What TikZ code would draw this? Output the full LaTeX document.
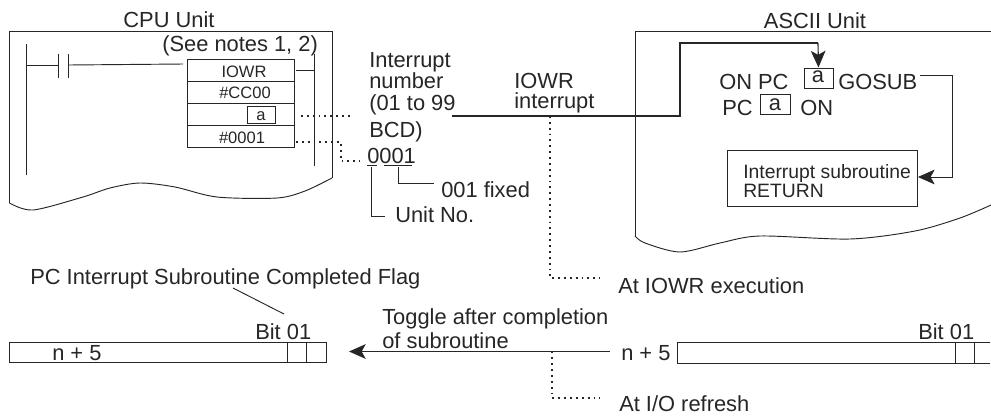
\documentclass[tikz,border=0pt]{standalone}
\usepackage{fontspec}
\setmainfont{Liberation Sans}
\usetikzlibrary{arrows.meta}
\newcommand{\bigtxt}{\fontsize{16.4}{18}\selectfont}
\newcommand{\midtxt}{\fontsize{14.5}{16}\selectfont}
\newcommand{\smalltxt}{\fontsize{12.4}{14}\selectfont}
\begin{document}
\begin{tikzpicture}[
            x=0.75pt, y=-0.75pt,
            every node/.style={text=black!85},
            txt/.style   ={anchor=base west, inner sep=0pt, font=\bigtxt},
            txtc/.style  ={anchor=base, inner sep=0pt, font=\bigtxt},
            small/.style ={anchor=base, inner sep=0pt, font=\smalltxt},
            mid/.style   ={anchor=base west, inner sep=0pt, font=\midtxt},
            cell/.style  ={draw=black!85, anchor=north west, inner sep=0pt, line width=0.7pt},
            wire/.style  ={draw=black!85, line width=0.7pt},
            thickwire/.style ={draw=black!85, line width=0.85pt},
            dots/.style  ={draw=black!85, line width=0.8pt, dash pattern=on 1.4pt off 3pt},
            tip/.style   ={-{Stealth[length=12.5pt, width=11pt, inset=3pt]}}
        ]
            \useasboundingbox (0,0) rectangle (991,415);

            %-----------------  CPU Unit  --------------------
            \node[txtc] (cpu) at (169,27) {CPU Unit};
            \draw[wire] (9.5,203) -- (9.5,31) -- (332,31) -- (332,178);
            \draw[wire] plot[smooth] coordinates {(332,178) (305,191) (277,198) (217,197) (175,187) (140,183) (110,188) (83,197) (33,210) (9.5,203)};
            \node[txt] (notes) at (162,51) {(See notes 1, 2)};

            % Escalera
            \coordinate (railL1) at (26,44);
            \coordinate (railL2) at (26,175);
            \coordinate (railR1) at (314,54);
            \coordinate (railR2) at (314,166);
            \draw[wire] (railL1) -- (railL2);
            \draw[wire] (railR1) -- (railR2);
            \draw[wire] (58,54) -- (58,78);
            \draw[wire] (68.5,54) -- (68.5,78);
            \draw[wire] (26,65) -- (58,65);
            \draw[wire] (68.5,65) -- (183,64);
            \draw[wire] (296,70) -- (314,70);

            % Instruccion IOWR
            \draw[wire] (187.5,59.5) rectangle (294.5,147);
            \draw[wire] (187.5,81.5) -- (294.5,81.5);
            \draw[wire] (187.5,103) -- (294.5,103);
            \draw[wire] (187.5,125.5) -- (294.5,125.5);
            \node[small] (iowr) at (244,77) {IOWR};
            \node[small] (cc) at (245,98) {\#CC00};
            \node[small] (num) at (242,143) {\#0001};
            \node[cell, minimum width=21pt, minimum height=12.75pt] (abox) at (247,105.5) {};
            \node[small] (alab) at (261,120) {a};

            %-----------------  Numero de interrupcion  ---------------
            \node[txt] (inta) at (369,67) {Interrupt};
            \node[txt] (intb) at (369,88) {number};
            \node[txt] (intc) at (369,110) {(01 to 99};
            \node[txt] (intd) at (369,137) {BCD)};
            \node[txt] (code) at (367,163) {0001};
            \node[txt] (fixed) at (441,197) {001 fixed};
            \node[txt] (unitno) at (395,222) {Unit No.};

            \coordinate (aout) at (301,116);
            \coordinate (aend) at (353,116);
            \coordinate (nout) at (296,142);
            \coordinate (nend) at (360,161);
            \coordinate (unitend) at (385,216);
            \coordinate (fixedend) at (434,183);
            \draw[dots] (aout) -- (aend);
            \draw[dots] (nout) -| (341,161) -- (nend);

            \draw[wire] (367,165) -- (377,165);
            \draw[wire] (384,165) -- (412,165);
            \draw[wire] (371.5,167) |- (unitend);
            \draw[wire] (398,167) |- (fixedend);

            %-----------------  ASCII Unit  ---------------
            \node[txtc] (ascii) at (815,28) {ASCII Unit};
            \draw[wire] (991,31) -- (635,31) -- (635,236);
            \draw[wire] plot[smooth] coordinates {(635,236) (645,243) (680,252) (720,243) (760,236) (850,239) (915,231) (960,218) (991,205)};

            \node[txt] (onpc) at (719,89) {ON PC};
            \node[cell, minimum width=21.75pt, minimum height=15pt] (afirst) at (803.5,67.5) {};
            \node[txtc] (afirstlab) at (818,82) {a};
            \node[txt] (gosub) at (838,89) {GOSUB};
            \node[txt] (pc) at (722,115) {PC};
            \node[cell, minimum width=22.5pt, minimum height=15pt] (asecond) at (760,94) {};
            \node[txtc] (asecondlab) at (775,110) {a};
            \node[txt] (on) at (800,115) {ON};

            \node[cell, minimum width=142.5pt, minimum height=42pt] (sub) at (727,150) {};
            \node[mid] (subta) at (743,178) {Interrupt subroutine};
            \node[mid] (subtb) at (743,197) {RETURN};

            \coordinate (gosubout) at (920,75);
            \draw[wire, tip] (gosubout) -- (952,75) |- (sub.east |- 0,177);

            %------------------  Interrupcion IOWR -------------
            \node[txt] (iowrtxt) at (514,88) {IOWR};
            \node[txt] (inttxt) at (514,108) {interrupt};
            \coordinate (mainstart) at (452,116);
            \coordinate (branch) at (550,116);
            \draw[thickwire] (mainstart) -- (680,116) -- (680,43) -- (818,43);
            \draw[thickwire, tip] (818,43) -- (afirst.north);

            \node[txt] (exec) at (618,293) {At IOWR execution};
            \draw[dots] (branch) |- (600,278);

            %------------------  Flag de subrutina -------------
            \node[txt] (flag) at (30,284) {PC Interrupt Subroutine Completed Flag};
            \node[txt] (bita) at (255,339) {Bit 01};
            \draw[wire] (233,288) -- (284,314);
            \draw[wire] (9.5,342) rectangle (326.5,362.5);
            \draw[wire] (287,342) -- (287,362.5);
            \draw[wire] (306.5,342) -- (306.5,362.5);
            \node[txt] (na) at (52,360) {n + 5};

            \node[txt] (toggle) at (382,324) {Toggle after completion};
            \node[txt] (ofsub) at (382,348) {of subroutine};
            \coordinate (nfrom) at (610,351.5);
            \coordinate (nto) at (349,351.5);
            \coordinate (branchb) at (552,351.5);
            \draw[thickwire, tip] (nfrom) -- (nto);
            \draw[dots] (branchb) |- (600,398);
            \node[txt] (refresh) at (619,411.5) {At I/O refresh};

            \node[txt] (nb) at (621,360) {n + 5};
            \node[txt] (bitb) at (918,339) {Bit 01};
            \draw[wire] (990,342.5) -- (677.5,342.5) -- (677.5,363) -- (990,363);
            \draw[wire] (955,342.5) -- (955,363);
            \draw[wire] (974.5,342.5) -- (974.5,363);
        \end{tikzpicture}
\end{document}
